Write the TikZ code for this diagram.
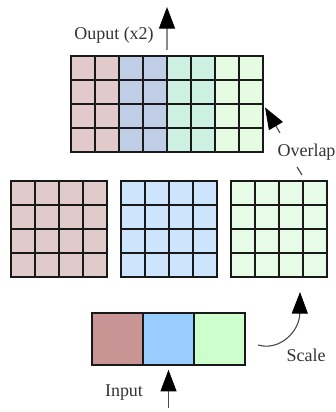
\documentclass[tikz,border=0pt]{standalone}
\usepackage{fontspec}
\setmainfont{Liberation Serif}
\usetikzlibrary{arrows.meta}
\definecolor{OutRed}{RGB}{226,202,204}
\definecolor{OutBlue}{RGB}{191,206,230}
\definecolor{OutMint}{RGB}{204,240,226}
\definecolor{OutGreen}{RGB}{229,252,226}
\definecolor{QuadRed}{RGB}{225,202,202}
\definecolor{QuadBlue}{RGB}{204,228,252}
\definecolor{QuadGreen}{RGB}{230,252,230}
\definecolor{InRed}{RGB}{200,148,148}
\definecolor{InBlue}{RGB}{153,204,255}
\definecolor{InGreen}{RGB}{204,255,204}

\begin{document}
\begin{tikzpicture}[yscale=-1,x=0.6cm,y=0.6cm,>={Triangle[length=5.4mm,width=4mm,color=black]}]
	\tikzstyle{gridline} = [draw=black!90, line width=1.3pt, inner sep=0pt, outer sep=0pt]
	\tikzstyle{band} = [gridline, minimum width=1.2cm, minimum height=2.4cm]
	\tikzstyle{quad} = [gridline, minimum width=2.4cm, minimum height=2.4cm]
	\tikzstyle{inp} = [gridline, minimum width=1.275cm, minimum height=1.3cm]
	\tikzstyle{lbl} = [text=black!80, font=\fontsize{12.8}{15}\selectfont, inner sep=0pt]
	
	\useasboundingbox (0,0) rectangle (14,17.1667);
	
	\node[band, fill=OutRed] 	(OutA) at (3.9583,4.3333) {};
	\node[band, fill=OutBlue] 	(OutB) at (5.9583,4.3333) {};
	\node[band, fill=OutMint] 	(OutC) at (7.9583,4.3333) {};
	\node[band, fill=OutGreen] 	(OutD) at (9.9583,4.3333) {};
	\foreach \i in {1,...,7} \draw[gridline] (OutA.north west) ++(\i,0) -- ++(0,4);
	\foreach \j in {1,2,3} \draw[gridline] (OutA.north west) ++(0,\j) -- ++(8,0);
	
	\node[quad, fill=QuadRed] 	(RedQuad) at (2.4583,9.5417) {};
	\node[quad, fill=QuadBlue] 	(BlueQuad) at (7.0417,9.5417) {};
	\node[quad, fill=QuadGreen] (GreenQuad) at (11.625,9.5417) {};
	\foreach \g in {RedQuad,BlueQuad,GreenQuad} {
		\foreach \i in {1,2,3} {
			\draw[gridline] (\g.north west) ++(\i,0) -- ++(0,4);
			\draw[gridline] (\g.north west) ++(0,\i) -- ++(4,0);
		}
	}
	
	\node[inp, fill=InRed] 		(InA) at (4.8958,14.125) {};
	\node[inp, fill=InBlue] 	(InB) at (7.0208,14.125) {};
	\node[inp, fill=InGreen] 	(InC) at (9.1458,14.125) {};
	
	\node[lbl] (OutLabel) at (4.75,1.4583) {Ouput (x2)};
	\node[lbl] (OverlapLabel) at (12.771,6.333) {Overlap};
	\node[lbl] (ScaleLabel) at (12.75,14.792) {Scale};
	\node[lbl] (InLabel) at (5.1667,16.375) {Input};
	
	\coordinate (OutTip) at (6.9583,0.2917);
	\coordinate (OverlapTail) at (11.667,5.5417);
	\coordinate (ScaleStart) at (10.75,14.375);
	\coordinate (ScaleTip) at (12.5,12.1667);
	\coordinate (InTail) at (7.0208,17.0);
	
	\draw[->, thick, black!70, shorten <=0.15cm] (OutB.north east) -- (OutTip);
	\draw[->, thick, black!70, shorten >=0.1cm] (OverlapTail) -- (OutD.east);
	\draw[->, thick, black!70] (ScaleStart) .. controls (11.654,14.638) and (12.484,13.808) .. (ScaleTip);
	\draw[->, thick, black!70, shorten >=0.12cm] (InTail) -- (InB.south);
	\draw[thick, black!75] (12.375,6.9583) -- (12.583,7.2917);
	
\end{tikzpicture}
\end{document}
